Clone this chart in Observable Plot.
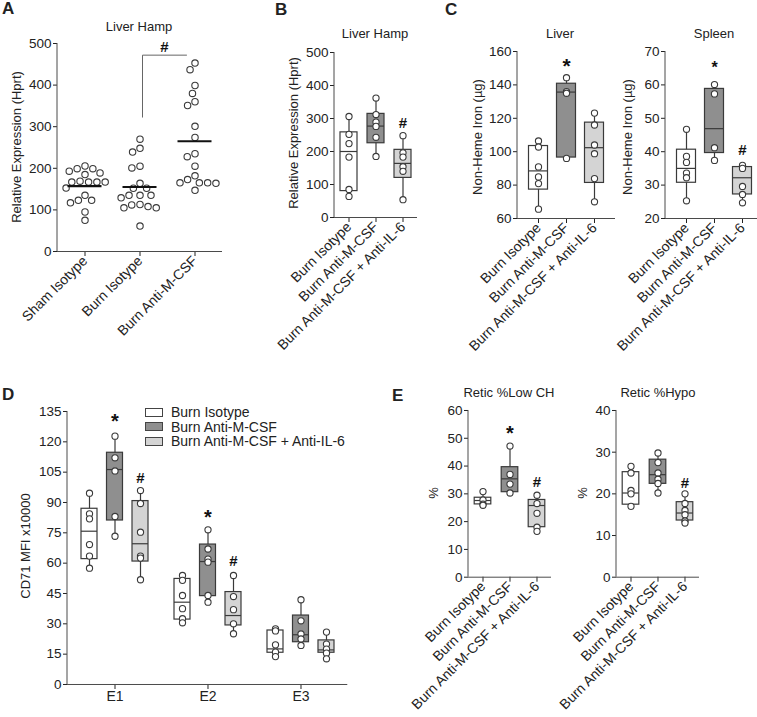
<!DOCTYPE html>
<html><head><meta charset="utf-8">
<script src="https://cdn.jsdelivr.net/npm/d3@7"></script>
<script src="https://cdn.jsdelivr.net/npm/@observablehq/plot@0.6"></script>
<style>
body{margin:0;background:#fff;}
#fig{position:relative;width:757px;height:717px;overflow:hidden;background:#fff;font-family:Arial,"Liberation Sans",Helvetica,sans-serif;color:#222;}
#fig g[aria-label="x-axis tick label"]{font-size:14px;}
#fig g[aria-label="y-axis tick label"]{font-size:13.5px;}
.lbl{position:absolute;white-space:nowrap;transform:translate(-50%,-50%);font-size:13px;line-height:1;}
.ylab{transform:translate(-50%,-50%) rotate(-90deg);}
.letter{position:absolute;font-weight:bold;font-size:17px;line-height:1;}
.leg{position:absolute;font-size:14px;line-height:1;white-space:nowrap;}
.sw{position:absolute;width:16px;height:7px;border:1px solid #444;}
</style></head><body><div id="fig"></div>
<script>
// ---------- data ----------
const groups = ["Burn Isotype", "Burn Anti-M-CSF", "Burn Anti-M-CSF + Anti-IL-6"];

// Panel A: Liver Hamp (dot plot)
const aCats = ["Sham Isotype", "Burn Isotype", "Burn Anti-M-CSF"];
const aSham = [205.5, 199, 199, 193, 189, 185, 167, 167, 167, 167, 169, 152.5, 135, 123, 123, 117, 95, 75];
const aBurnIso = [270, 248, 239, 201, 205, 164, 152, 152, 135, 135, 135, 129, 112, 108, 105, 105, 113, 61];
const aBurnMcsf = [453, 437, 399, 380, 351, 360, 301, 274, 235, 228, 205, 182, 173, 165, 164, 165, 165, 147];
const aMedians = [157, 155, 265];
const aTicks = [0, 100, 200, 300, 400, 500];
const aBracket = {from: "Burn Isotype", to: "Burn Anti-M-CSF", low: 323, high: 472, label: "#", labelY: 490};

// Box stats: [whisker low, Q1, median, Q3, whisker high]
// Panel B: Liver Hamp
const bBox = [[64, 80, 200, 258, 306], [185, 225, 277, 314, 362], [54, 120, 164, 205, 248]];
const bPts = [[306, 252, 224, 183, 85, 64], [362, 312, 289, 276, 243, 185], [248, 196, 183, 154, 140, 54]];
const bSig = [{cat: groups[2], t: "#", y: 287}];
const bTicks = [0, 100, 200, 300, 400, 500];

// Panel C: Non-heme iron
const cLivBox = [[65.6, 77.3, 88.5, 103.4, 106.4], [96, 96.5, 135.7, 140.7, 144.3], [70, 81.3, 102.4, 117.4, 123.1]];
const cLivPts = [[106.4, 102.8, 90.9, 84.9, 80.9, 65.6], [144.3, 136, 135, 96], [123.1, 116, 104, 98.8, 83.9, 70]];
const cLivSig = [{cat: groups[1], t: "*", y: 154.6}];
const cLivTicks = [60, 80, 100, 120, 140, 160];
const cSplBox = [[25.3, 30.7, 35, 40.6, 46.7], [37.4, 39.6, 46.9, 58.8, 60.1], [24.7, 27.2, 32.2, 35.4, 35.9]];
const cSplPts = [[46.7, 38.6, 36.8, 33.6, 32.2, 25.3], [60.1, 57.3, 41.2, 37.4], [35.9, 35, 29.6, 27.2, 24.7]];
const cSplSig = [{cat: groups[1], t: "*", y: 66.3}, {cat: groups[2], t: "#", y: 40.4}];
const cSplTicks = [20, 30, 40, 50, 60, 70];

// Panel D: CD71 MFI by stage
const stages = ["E1", "E2", "E3"];
const dIsoBox = [[57.5, 62, 75.8, 86.9, 94.6], [30.5, 32.1, 40.7, 52.2, 53.9], [13.8, 15.7, 17.6, 26.7, 28.4]];
const dMcsfBox = [[73.3, 81.1, 106.3, 114.6, 122.8], [40.7, 43.7, 60.8, 69.2, 76.5], [19.3, 20.9, 24.6, 34.1, 41.9]];
const dIl6Box = [[51.8, 60.8, 69.6, 90.7, 95.9], [25.1, 29.2, 34.1, 45.7, 53.9], [12.7, 15.7, 17.1, 21.8, 25.9]];
const dIsoPts = [[94.6, 84.4, 81.9, 69.2, 63.5, 57.5], [53.9, 51.5, 44, 37.5, 32.5, 30.5], [27.5, 26.5, 19.6, 16, 13.8]];
const dMcsfPts = [[122.8, 112.1, 105.6, 83.1, 73.3], [76.5, 67, 62, 60.5, 44, 40.7], [41.9, 31.5, 25, 22.5, 19.3]];
const dIl6Pts = [[95.9, 89.5, 75.3, 63.5, 62.5, 51.8], [53.9, 43.5, 37, 30, 25.1], [25.9, 20, 17.5, 15.5, 12.7]];
const dIsoSig = [];
const dMcsfSig = [{stage: "E1", t: "*", y: 132.5}, {stage: "E2", t: "*", y: 85}];
const dIl6Sig = [{stage: "E1", t: "#", y: 101.9}, {stage: "E2", t: "#", y: 60.8}];
const dTicks = [0, 15, 30, 45, 60, 75, 90, 105, 120, 135];

// Panel E: Retic
const eLowBox = [[25.8, 26.2, 27.6, 28.6, 30.8], [30, 30.6, 35.4, 39.6, 47.2], [16.2, 18, 25.8, 27.8, 30]];
const eLowPts = [[30.8, 27.8, 26.3, 25.9], [47.2, 37, 33.5, 30.3], [29.5, 26.5, 23, 18, 16.5]];
const eLowSig = [{cat: groups[1], t: "*", y: 53.7}, {cat: groups[2], t: "#", y: 34.1}];
const eLowTicks = [0, 10, 20, 30, 40, 50, 60];
const eHypoBox = [[17, 17.4, 20.2, 25.2, 26.6], [20.2, 22.4, 24.6, 28.2, 29.8], [13, 13.6, 15.4, 18, 20]];
const eHypoPts = [[26.6, 25, 20.8, 20, 17], [29.8, 27.5, 25, 23.5, 22.5, 20.2], [20, 17.7, 16, 15, 13.5, 13]];
const eHypoSig = [{cat: groups[2], t: "#", y: 22.5}];
const eHypoTicks = [0, 10, 20, 30, 40];

// ---------- styling ----------
const FONT = 'Arial, "Liberation Sans", Helvetica, sans-serif';
const STROKE = "#3a3a3a";
const AXIS = "#4a4a4a";
const fills = ["#ffffff", "#8f8f8f", "#d4d4d4"];
const fig = document.getElementById("fig");

function yAxisLine(index, scales, values, dims) {
  const l = document.createElementNS("http://www.w3.org/2000/svg", "line");
  l.setAttribute("x1", dims.marginLeft); l.setAttribute("x2", dims.marginLeft);
  l.setAttribute("y1", dims.marginTop); l.setAttribute("y2", dims.height - dims.marginBottom);
  l.setAttribute("stroke", AXIS);
  return l;
}

function makeChart({x0, x1, yTop, yBot, x, y, marks}) {
  const mL = 46, mR = 12, mT = 30, mB = 125;
  const xBase = x.type === "linear" ? {} : {type: "band", paddingInner: 0, paddingOuter: 0};
  const svg = Plot.plot({
    width: x1 - x0 + mL + mR, height: yBot - yTop + mT + mB,
    marginLeft: mL, marginRight: mR, marginTop: mT, marginBottom: mB,
    style: {fontFamily: FONT, fontSize: "13.5px", color: "#222", background: "transparent", overflow: "visible"},
    x: {...xBase, tickSize: 5, tickPadding: 2, label: null, ...x},
    y: {tickSize: 4, tickPadding: 2, label: null, ...y},
    color: {domain: groups, range: fills},
    marks: [yAxisLine, Plot.ruleY([y.domain[0]], {stroke: AXIS}), ...marks]
  });
  svg.style.position = "absolute";
  svg.style.left = (x0 - mL) + "px";
  svg.style.top = (yTop - mT) + "px";
  fig.appendChild(svg);
}

function boxRows(keys, boxes, grpOf, key) {
  return boxes.map((b, i) => ({[key]: keys[i], grp: grpOf(i), lo: b[0], q1: b[1], med: b[2], q3: b[3], hi: b[4]}));
}
function ptRows(keys, pts, key) {
  return pts.flatMap((arr, i) => arr.map(v => ({[key]: keys[i], v})));
}
function boxMarks(rows, pts, sig, inset, key, dx = 0, starSize = 20) {
  return [
    Plot.ruleX(rows, {x: key, y1: "lo", y2: "hi", stroke: STROKE, strokeWidth: 1.2, dx}),
    Plot.barY(rows, {x: key, y1: "q1", y2: "q3", fill: "grp", stroke: STROKE, strokeWidth: 1.2, insetLeft: inset, insetRight: inset, dx}),
    Plot.tickY(rows, {x: key, y: "med", stroke: STROKE, strokeWidth: 1.2, insetLeft: inset, insetRight: inset, dx}),
    Plot.dot(pts, {x: key, y: "v", r: 3.1, fill: "white", stroke: STROKE, strokeWidth: 1.1, dx}),
    Plot.text(sig.filter(s => s.t === "*"), {x: key, y: "y", text: "t", fontWeight: "bold", fontSize: starSize, fill: "#111", dx, dy: starSize * 0.27}),
    Plot.text(sig.filter(s => s.t === "#"), {x: key, y: "y", text: "t", fontWeight: "bold", fontSize: 15, fill: "#111", dx})
  ];
}
const rotX = {tickRotate: -45};

// symmetric beeswarm: horizontal pixel offsets so circles do not overlap
function beeswarm(values, pxPerUnit, r, pad) {
  const order = values.map((v, i) => i).sort((a, b) => values[b] - values[a]);
  const off = new Array(values.length), placed = [];
  const dr = 2 * r + pad;
  for (const i of order) {
    const intervals = [];
    for (const j of placed) {
      const dy = (values[i] - values[j]) * pxPerUnit;
      if (Math.abs(dy) < dr) { const w = Math.sqrt(dr * dr - dy * dy); intervals.push([off[j] - w, off[j] + w]); }
    }
    const cands = [0, ...intervals.flat()].sort((a, b) => Math.abs(a) - Math.abs(b) || a - b);
    for (const c of cands) {
      if (intervals.every(([a, b]) => !(a + 1e-6 < c && c < b - 1e-6))) { off[i] = c; break; }
    }
    placed.push(i);
  }
  return off;
}

// ---------- Panel A ----------
{
  const x0 = 57, x1 = 222, yTop = 43, yBot = 251;
  const bw = (x1 - x0) / aCats.length;
  const pxPerUnit = (yBot - yTop) / 500;
  const ptsByCat = [aSham, aBurnIso, aBurnMcsf];
  const dots = ptsByCat.flatMap((arr, gi) => {
    const off = beeswarm(arr, pxPerUnit, 3.2, 1.9);
    return arr.map((v, k) => ({x: gi + off[k] / bw, v}));
  });
  const half = 17 / bw;
  const meds = aMedians.map((m, i) => ({x1: i - half, x2: i + half, m}));
  const bi = aCats.indexOf(aBracket.from), bj = aCats.indexOf(aBracket.to);
  const bx1 = bi + 2.5 / bw, bx2 = bj - 8.5 / bw;
  const bracket = [{x: bx1, y: aBracket.low}, {x: bx1, y: aBracket.high}, {x: bx2, y: aBracket.high}];
  makeChart({
    x0, x1, yTop, yBot,
    x: {type: "linear", domain: [-0.5, aCats.length - 0.5], ticks: aCats.map((c, i) => i), tickFormat: i => aCats[i], ...rotX},
    y: {domain: [0, 500], ticks: aTicks},
    marks: [
      Plot.dot(dots, {x: "x", y: "v", r: 3.2, fill: "white", stroke: STROKE, strokeWidth: 1.1}),
      Plot.ruleY(meds, {x1: "x1", x2: "x2", y: "m", stroke: "#111", strokeWidth: 2.2}),
      Plot.line(bracket, {x: "x", y: "y", stroke: "#666", strokeWidth: 1}),
      Plot.text([aBracket], {x: () => (bx1 + bx2) / 2, y: "labelY", text: "label", fontWeight: "bold", fontSize: 15, fill: "#111"})
    ]
  });
}

// ---------- Panel B ----------
makeChart({
  x0: 334, x1: 417, yTop: 52, yBot: 217,
  x: {domain: groups, ...rotX},
  y: {domain: [0, 500], ticks: bTicks},
  marks: boxMarks(boxRows(groups, bBox, i => groups[i], "cat"), ptRows(groups, bPts, "cat"), bSig, 5, "cat")
});

// ---------- Panel C ----------
makeChart({
  x0: 517, x1: 615, yTop: 51, yBot: 218,
  x: {domain: groups, paddingOuter: 0.25, ...rotX},
  y: {domain: [60, 160], ticks: cLivTicks},
  marks: boxMarks(boxRows(groups, cLivBox, i => groups[i], "cat"), ptRows(groups, cLivPts, "cat"), cLivSig, 4.5, "cat", 0, 21)
});
makeChart({
  x0: 665, x1: 763, yTop: 51, yBot: 218,
  x: {domain: groups, paddingOuter: 0.25, ...rotX},
  y: {domain: [20, 70], ticks: cSplTicks},
  marks: boxMarks(boxRows(groups, cSplBox, i => groups[i], "cat"), ptRows(groups, cSplPts, "cat"), cSplSig, 4.5, "cat", 0, 16)
});

// ---------- Panel D ----------
{
  const dBoxes = [dIsoBox, dMcsfBox, dIl6Box];
  const dPts = [dIsoPts, dMcsfPts, dIl6Pts];
  const dSigs = [dIsoSig, dMcsfSig, dIl6Sig];
  const gap = 25.5;
  makeChart({
    x0: 66.7, x1: 347, yTop: 411, yBot: 684,
    x: {domain: stages},
    y: {domain: [0, 135], ticks: dTicks},
    marks: groups.flatMap((g, gi) => boxMarks(
      boxRows(stages, dBoxes[gi], () => g, "stage"),
      ptRows(stages, dPts[gi], "stage"),
      dSigs[gi], 38.5, "stage", (gi - 1) * gap, 20))
  });
}

// ---------- Panel E ----------
makeChart({
  x0: 467.7, x1: 550.7, yTop: 410, yBot: 576.7,
  x: {domain: groups, ...rotX},
  y: {domain: [0, 60], ticks: eLowTicks},
  marks: boxMarks(boxRows(groups, eLowBox, i => groups[i], "cat"), ptRows(groups, eLowPts, "cat"), eLowSig, 5.2, "cat", 0, 20)
});
makeChart({
  x0: 616, x1: 699, yTop: 410, yBot: 576.7,
  x: {domain: groups, ...rotX},
  y: {domain: [0, 40], ticks: eHypoTicks},
  marks: boxMarks(boxRows(groups, eHypoBox, i => groups[i], "cat"), ptRows(groups, eHypoPts, "cat"), eHypoSig, 5.2, "cat")
});

// ---------- text: letters, titles, axis labels, legend ----------
function addDiv(cls, text, x, y) {
  const d = document.createElement("div");
  d.className = cls; d.textContent = text;
  d.style.left = x + "px"; d.style.top = y + "px";
  fig.appendChild(d); return d;
}
[["A", 2, 0], ["B", 275, 1], ["C", 445, 1], ["D", 2, 386], ["E", 392, 387]].forEach(([t, x, y]) => addDiv("letter", t, x, y));
[["Liver Hamp", 139, 26], ["Liver Hamp", 375, 33], ["Liver", 560, 33], ["Spleen", 714, 33],
 ["Retic %Low CH", 509, 392], ["Retic %Hypo", 658, 392]].forEach(([t, x, y]) => addDiv("lbl", t, x, y));
[["Relative Expression (Hprt)", 15.5, 147], ["Relative Expression (Hprt)", 293, 133],
 ["Non-Heme Iron (\u00b5g)", 477, 137], ["Non-Heme Iron (\u00b5g)", 627, 137],
 ["CD71 MFI x10000", 25, 546], ["%", 433, 493], ["%", 582, 493]].forEach(([t, x, y]) => addDiv("lbl ylab", t, x, y));
groups.forEach((g, i) => {
  const cy = 412 + i * 14.5;
  const sw = document.createElement("div");
  sw.className = "sw"; sw.style.left = "145px"; sw.style.top = (cy - 4.5) + "px"; sw.style.background = fills[i];
  fig.appendChild(sw);
  addDiv("leg", g, 171, cy - 7);
});
</script></body></html>
